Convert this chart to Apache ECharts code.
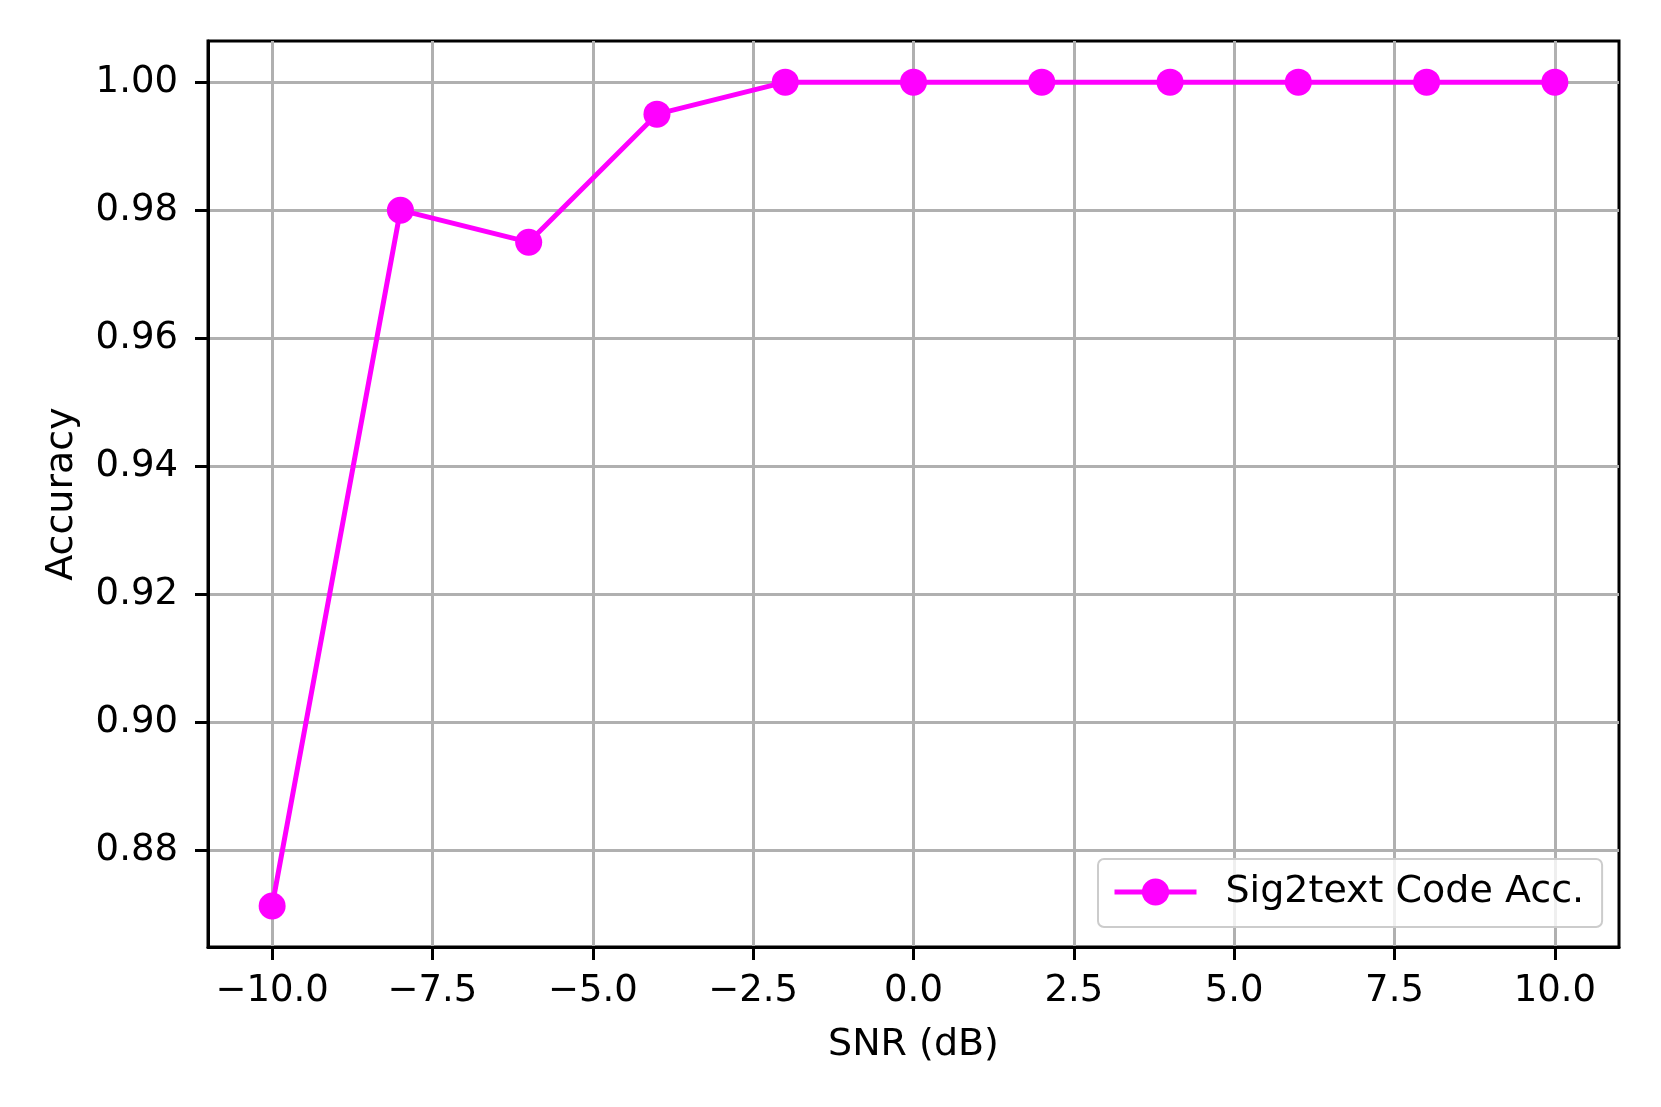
<!DOCTYPE html>
<html>
<head>
<meta charset="utf-8">
<title>Sig2text Code Acc.</title>
<script src="https://cdn.jsdelivr.net/npm/echarts@6/dist/echarts.min.js"></script>
<style>
  html, body { margin: 0; padding: 0; background: #fff; }
  #chart { width: 1661px; height: 1107px; }
</style>
</head>
<body>
<div id="chart"></div>
<script>
// data
const snr = [-10, -8, -6, -4, -2, 0, 2, 4, 6, 8, 10];
const accuracy = [0.8713, 0.98, 0.975, 0.995, 1.0, 1.0, 1.0, 1.0, 1.0, 1.0, 1.0];
const xTicks = [-10, -7.5, -5, -2.5, 0, 2.5, 5, 7.5, 10];
const yTicks = [0.88, 0.90, 0.92, 0.94, 0.96, 0.98, 1.00];
const seriesName = "Sig2text Code Acc.";

const font = "DejaVu Sans";
const fontSize = 38;
const tickFontSize = 37;
const minus = (s) => s.replace("-", "\u2212");

const chart = echarts.init(document.getElementById("chart"));

const option = {
  animation: false,
  backgroundColor: "#fff",
  textStyle: { fontFamily: font },
  grid: {
    left: 208,
    right: 42,
    top: 41,
    bottom: 160,
    show: true,
    borderColor: "#000",
    borderWidth: 3,
    backgroundColor: "transparent",
  },
  legend: {
    data: [seriesName],
    left: 1098,
    top: 859,
    orient: "vertical",
    itemWidth: 82,
    itemHeight: 34,
    padding: [14, 18, 16, 14],
    backgroundColor: "rgba(255,255,255,0.8)",
    borderColor: "#cccccc",
    borderWidth: 2,
    borderRadius: 6,
    lineStyle: { width: 5 },
    textStyle: {
      fontFamily: font,
      fontSize: fontSize,
      color: "#000",
      padding: [0, 0, 0, 24],
    },
  },
  xAxis: {
    type: "value",
    min: -11,
    max: 11,
    name: "SNR (dB)",
    nameLocation: "middle",
    nameGap: 79,
    nameTextStyle: { fontFamily: font, fontSize: fontSize, color: "#000" },
    axisLine: { show: true, onZero: false, lineStyle: { color: "#000", width: 3 } },
    axisTick: {
      show: true,
      length: 13,
      customValues: xTicks,
      lineStyle: { color: "#000", width: 3 },
    },
    axisLabel: {
      customValues: xTicks,
      margin: 26,
      fontFamily: font,
      fontSize: tickFontSize,
      color: "#000",
      formatter: (v) => minus(v.toFixed(1)),
    },
    splitLine: { show: true, lineStyle: { color: "#b0b0b0", width: 3 } },
  },
  yAxis: {
    type: "value",
    min: 0.8649,
    max: 1.00643,
    name: "Accuracy",
    nameLocation: "middle",
    nameGap: 127,
    nameRotate: 90,
    nameTextStyle: { fontFamily: font, fontSize: fontSize, color: "#000" },
    axisLine: { show: true, onZero: false, lineStyle: { color: "#000", width: 3 } },
    axisTick: {
      show: true,
      length: 13,
      customValues: yTicks,
      lineStyle: { color: "#000", width: 3 },
    },
    axisLabel: {
      customValues: yTicks,
      margin: 30,
      fontFamily: font,
      fontSize: tickFontSize,
      color: "#000",
      formatter: (v) => v.toFixed(2),
    },
    splitLine: { show: true, lineStyle: { color: "#b0b0b0", width: 3 } },
  },
  series: [
    {
      name: seriesName,
      type: "line",
      data: snr.map((x, i) => [x, accuracy[i]]),
      symbol: "circle",
      symbolSize: 27,
      showSymbol: true,
      color: "#ff00ff",
      lineStyle: { color: "#ff00ff", width: 5 },
      itemStyle: { color: "#ff00ff" },
      clip: false,
      z: 3,
    },
  ],
};

chart.setOption(option);
</script>
</body>
</html>
